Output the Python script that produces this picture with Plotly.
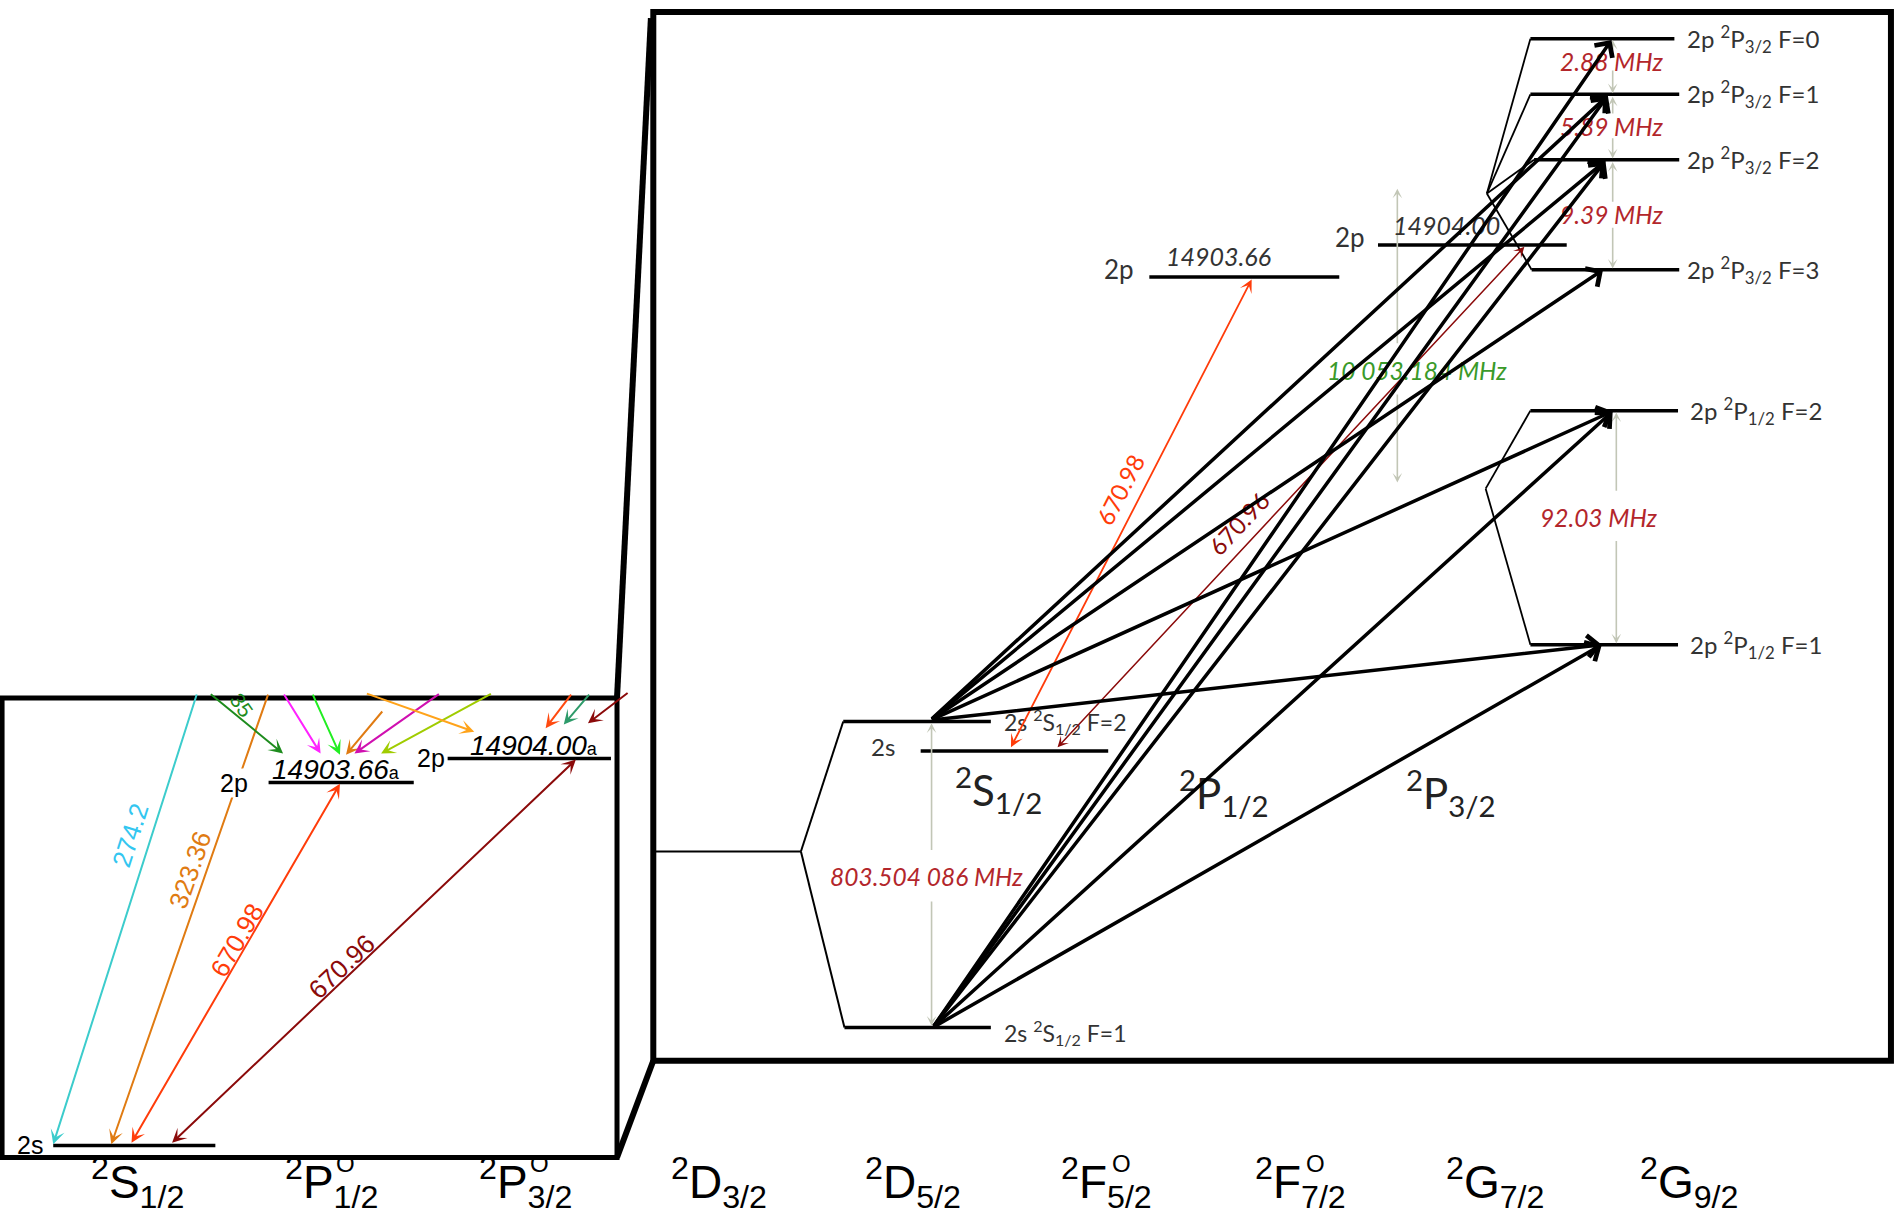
import math
import plotly.graph_objects as go

# ---------------- data ----------------
TERM_LETTERS = ["S", "P", "P", "D", "D", "F", "F", "G", "G"]
TERM_J = ["1/2", "1/2", "3/2", "3/2", "5/2", "5/2", "7/2", "7/2", "9/2"]
TERM_ODD = [False, True, True, False, False, True, True, False, False]

LEVEL_CONFIG = ["2s", "2p", "2p"]
LEVEL_ENERGY = ["14903.66", "14904.00"]          # cm-1 of 2p 2P1/2 and 2p 2P3/2
LINE_WL = ["274.2", "323.36", "670.98", "670.96"]  # nm
TOP_LABEL = "35"

S_F = [2, 1]
P32_F = [0, 1, 2, 3]
P12_F = [2, 1]
P32_SPLIT = ["2.88", "5.89", "9.39"]   # MHz
P12_SPLIT = ["92.03"]                  # MHz
S_SPLIT = ["803.504 086"]              # MHz
FS_SPLIT = ["10 053.184"]              # MHz
# dipole-allowed hyperfine transitions (lower F, upper term, upper F)
TRANSITIONS = [(2, "P32", 1), (2, "P32", 2), (2, "P32", 3), (2, "P12", 2), (2, "P12", 1),
               (1, "P32", 0), (1, "P32", 1), (1, "P32", 2), (1, "P12", 2), (1, "P12", 1)]

# ---------------- layout geometry (canvas units) ----------------
W, H = 1568, 1007
TERM_X0, TERM_DX, TERM_Y = 113.5, 160.3, 978

left_box = (1.7, 577, 510, 957)
right_box = (540, 10, 1563, 877)

L_lv = {"2s": (44, 178, 947), "p12": (222, 342, 647), "p32": (370, 505, 627)}
R_fine = {"s": (761, 916, 621), "p12": (950, 1107, 229), "p32": (1139, 1295, 202.5)}
R_S = {2: (697, 819, 596.5), 1: (698, 819, 849.5)}
R_P32 = {0: (1265, 1384, 32), 1: (1265, 1388, 78), 2: (1268, 1388, 132), 3: (1266, 1388, 223)}
R_P12 = {2: (1265, 1387, 339.5), 1: (1265, 1387, 533)}
S_TAIL = {2: (769, 595.5), 1: (771, 849.5)}
HEAD = {("P32", 0): (1332, 33), ("P32", 1): (1329, 79), ("P32", 2): (1327, 133),
        ("P32", 3): (1325, 223), ("P12", 2): (1333, 340), ("P12", 1): (1324, 533)}

ARIAL = "Liberation Sans, Arial, sans-serif"
GOTH = "Lato, Open Sans, sans-serif"
GRAY = "#c2c6b6"
HFS_RED = "#b3262b"

fig = go.Figure()
fig.add_trace(go.Scatter(x=[0, W], y=[0, H], mode="markers", marker=dict(opacity=0),
                         hoverinfo="skip", showlegend=False))


def line(x0, y0, x1, y1, w=2, color="black"):
    fig.add_shape(type="line", x0=x0, y0=y0, x1=x1, y1=y1, xref="x", yref="y",
                  line=dict(color=color, width=w))


def arrow(x0, y0, x1, y1, color, width, head=3, size=1.0, both=False):
    fig.add_annotation(x=x1, y=y1, ax=x0, ay=y0, xref="x", yref="y", axref="x", ayref="y",
                       text="", showarrow=True, arrowhead=head, arrowsize=size,
                       arrowwidth=width, arrowcolor=color, standoff=0, startstandoff=0,
                       arrowside="end+start" if both else "end",
                       startarrowhead=head, startarrowsize=size)


def text(x, y, s, size, color="black", family=ARIAL, angle=0, xa="center", ya="middle", bg=None):
    kw = {}
    if bg:
        kw["bgcolor"] = bg
    fig.add_annotation(x=x, y=y, xref="x", yref="y", text=s, showarrow=False, textangle=angle,
                       font=dict(size=size, color=color, family=family),
                       xanchor=xa, yanchor=ya, borderpad=0, **kw)


def ang(x0, y0, x1, y1):
    return math.degrees(math.atan2(y1 - y0, x1 - x0))


# ---------------- frames ----------------
fig.add_shape(type="rect", x0=left_box[0], y0=left_box[1], x1=left_box[2], y1=left_box[3],
              xref="x", yref="y", line=dict(color="black", width=5))
fig.add_shape(type="rect", x0=right_box[0], y0=right_box[1], x1=right_box[2], y1=right_box[3],
              xref="x", yref="y", line=dict(color="black", width=6))
line(left_box[2], left_box[1], right_box[0] - 2, 15, 6)
line(left_box[2], left_box[3], right_box[0], right_box[3], 6)

# ---------------- left panel ----------------
for k, (a, b, y) in L_lv.items():
    line(a, y, b, y, 3.5)

# colored arrows from higher levels
arrow(163, 573, 44, 946, "#3ccccc", 2, 3, 1.2)
arrow(222, 573, 92, 946, "#e07b12", 2, 3, 1.2)
arrow(108, 946, 281, 648, "#ff3c0a", 2, 3, 1.2, both=True)
arrow(141, 946, 476, 628, "#8b0a0a", 2, 3, 1.2, both=True)

TOP_ARROWS = [((173, 573), (234, 623), "#1e8c1e"), ((234, 573), (265, 623), "#ff22ff"),
              ((258, 573), (281, 624), "#22ee22"), ((317, 587), (286, 624), "#e07b12"),
              ((364, 573), (293, 623), "#d010b0"), ((407, 573), (315, 623), "#a0cc00"),
              ((302, 573), (392, 605), "#ffa31a"), ((473, 573), (451, 602), "#ff4a10"),
              ((488, 573), (466, 599), "#2e9b6a"), ((520, 572), (486, 598), "#8b0a0a")]
for (t, h, c) in TOP_ARROWS:
    arrow(t[0], t[1], h[0], h[1], c, 2, 3, 1.2)

text(200, 583, TOP_LABEL, 21, "#1e8c1e", angle=55)
text(108, 690.6, LINE_WL[0], 26, "#33c6f0", angle=ang(44, 946, 163, 573))
text(157, 719, LINE_WL[1], 26, "#e07b12", angle=ang(92, 946, 222, 573))
text(196, 777, LINE_WL[2], 26, "#ff3c0a", angle=ang(108, 946, 281, 648))
text(283, 799, LINE_WL[3], 26, "#8b0a0a", angle=ang(141, 946, 476, 628))

text(25, 947, LEVEL_CONFIG[0], 25)
text(193, 647, LEVEL_CONFIG[1], 25, bg="white")
text(356, 627, LEVEL_CONFIG[2], 25)
text(278, 636, f"<i>{LEVEL_ENERGY[0]}</i><span style='font-size:18px'>a</span>", 28)
text(441, 616, f"<i>{LEVEL_ENERGY[1]}</i><span style='font-size:18px'>a</span>", 28)

# ---------------- right panel: levels ----------------
line(right_box[0], 704, 662, 704, 2)
line(662, 704, R_S[2][0], R_S[2][2], 2)
line(662, 704, R_S[1][0], R_S[1][2], 2)
for F, (a, b, y) in R_S.items():
    line(a, y, b, y, 3.5)
for k, (a, b, y) in R_fine.items():
    line(a, y, b, y, 3.5)
for F, (a, b, y) in R_P32.items():
    line(a, y, b, y, 3.5)
    line(1229, 160, a, y, 1.8)
for F, (a, b, y) in R_P12.items():
    line(a, y, b, y, 3.5)
    line(1228, 404, a, y, 1.8)

# gray splitting arrows
arrow(770, 704, 770, 598, GRAY, 1.6, 3, 1)
arrow(770, 744, 770, 848, GRAY, 1.6, 3, 1)
arrow(1155, 285, 1155, 156, GRAY, 1.6, 3, 1)
arrow(1155, 325, 1155, 399, GRAY, 1.6, 3, 1)
for (ty, hy) in [(42, 33), (57, 77), (95, 80), (113, 131), (168, 134), (187, 222)]:
    arrow(1333, ty, 1333, hy, GRAY, 1.6, 3, 1)
arrow(1336, 407, 1336, 341, GRAY, 1.6, 3, 1)
arrow(1336, 446, 1336, 532, GRAY, 1.6, 3, 1)

# splitting labels
text(765.5, 724.6, f"<i>{S_SPLIT[0]} MHz</i>", 24.5, HFS_RED, GOTH)
text(1171, 306, f"<i>{FS_SPLIT[0]} MHz</i>", 24.5, "#3a9a2a", GOTH)
for s, y in zip(P32_SPLIT, [51, 104.7, 177.7]):
    text(1332, y, f"<i>{s} MHz</i>", 24.5, HFS_RED, GOTH)
text(1321.6, 428, f"<i>{P12_SPLIT[0]} MHz</i>", 24.5, HFS_RED, GOTH)

# level labels
for F, (a, b, y) in R_S.items():
    text(829, y + (0 if F == 2 else 4), f"2s <sup>2</sup>S<sub>1/2</sub> F={F}", 23, "#333", GOTH, xa="left")
for F, (a, b, y) in R_P32.items():
    text(1394, y, f"2p <sup>2</sup>P<sub>3/2</sub> F={F}", 24, "#333", GOTH, xa="left")
for F, (a, b, y) in R_P12.items():
    text(1396, y, f"2p <sup>2</sup>P<sub>1/2</sub> F={F}", 24, "#333", GOTH, xa="left")
text(730, 617, LEVEL_CONFIG[0], 24, "#333", GOTH)
text(925, 222, LEVEL_CONFIG[1], 26, "#333", GOTH)
text(1116, 196, LEVEL_CONFIG[2], 26, "#333", GOTH)
text(1007, 212, f"<i>{LEVEL_ENERGY[0]}</i>", 25, "#333", GOTH)
text(1196, 186, f"<i>{LEVEL_ENERGY[1]}</i>", 25, "#333", GOTH)
text(825, 653, "<sup>2</sup>S<sub>1/2</sub>", 42, "#222", GOTH)
text(1012, 655, "<sup>2</sup>P<sub>1/2</sub>", 42, "#222", GOTH)
text(1199, 655, "<sup>2</sup>P<sub>3/2</sub>", 42, "#222", GOTH)

# red optical transitions
arrow(835, 619, 1034.6, 231, "#ff3c0a", 1.8, 3, 1.2, both=True)
arrow(873, 619, 1260, 204, "#8b0a0a", 1.5, 3, 1.2, both=True)
text(926, 405, LINE_WL[2], 24, "#ff3c0a", GOTH, angle=ang(835, 619, 1034.6, 231))
text(1023.6, 432.5, LINE_WL[3], 24, "#8b0a0a", GOTH, angle=ang(873, 619, 1260, 204))

# black hyperfine transitions
for (fl, term, fu) in TRANSITIONS:
    tx, ty = S_TAIL[fl]
    hx, hy = HEAD[(term, fu)]
    arrow(tx, ty, hx, hy, "black", 3.5, 4, 1.2)

# ---------------- term labels along the bottom ----------------
for i, (L, J, odd) in enumerate(zip(TERM_LETTERS, TERM_J, TERM_ODD)):
    x = TERM_X0 + TERM_DX * i
    text(x, TERM_Y, f"<sup>2</sup>{L}<sub>{J}</sub>", 46)
    if odd:
        text(x + 12, 962, "O", 24)

fig.update_xaxes(range=[0, W], visible=False, fixedrange=True)
fig.update_yaxes(range=[H, 0], visible=False, fixedrange=True)
fig.update_layout(width=1897, height=1218, margin=dict(l=0, r=0, t=0, b=0),
                  paper_bgcolor="white", plot_bgcolor="white", showlegend=False)

fig.write_html("out.html", config={"displayModeBar": False},
               post_script="document.body.style.margin='0';document.body.style.overflow='hidden';")
